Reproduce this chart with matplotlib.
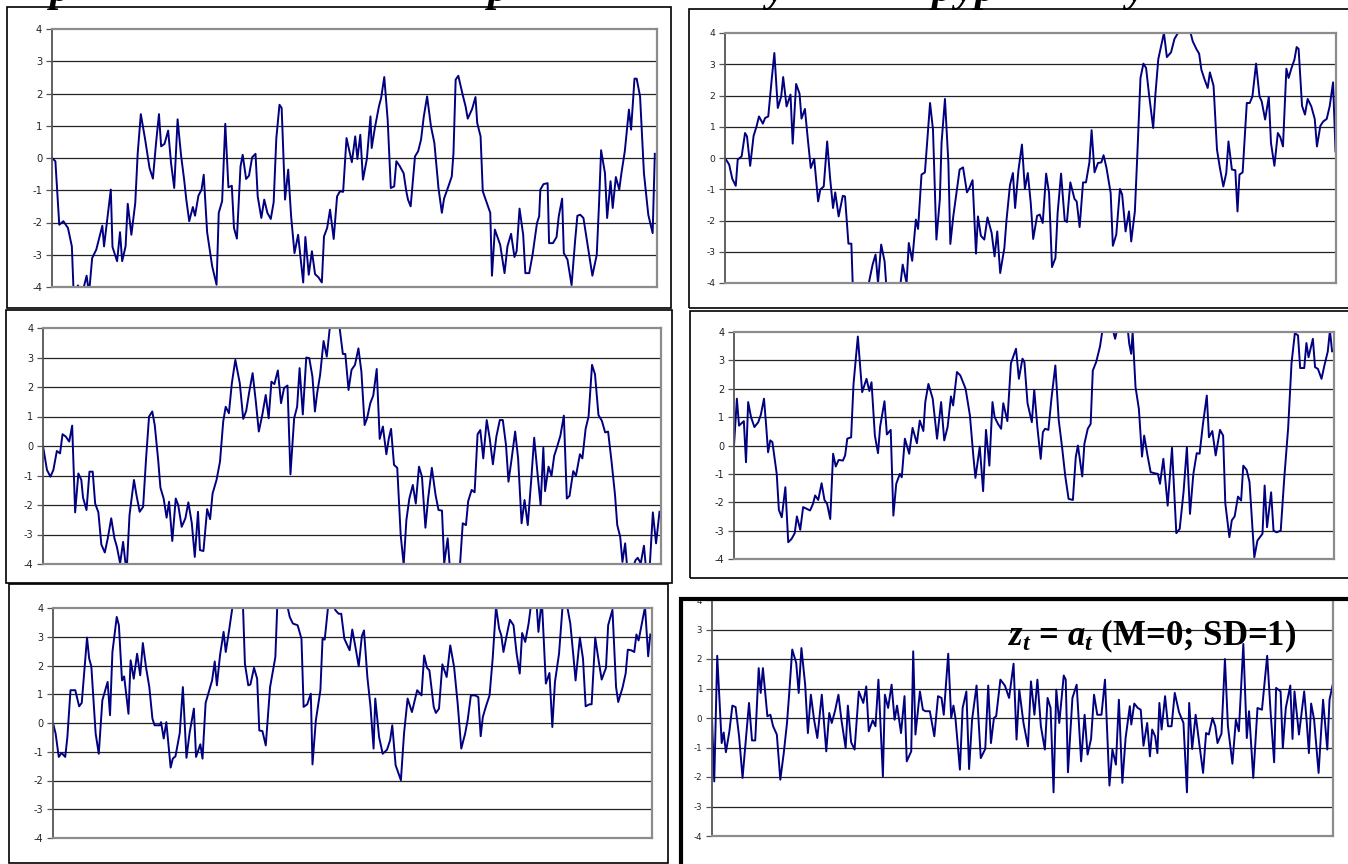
import matplotlib
matplotlib.use("Agg")
import matplotlib.pyplot as plt
from matplotlib.patches import Rectangle

plt.rcParams['axes.unicode_minus'] = False
plt.rcParams['font.family'] = ['DejaVu Sans']
plt.rcParams['mathtext.fontset'] = 'custom'
plt.rcParams['mathtext.it'] = 'Liberation Serif:italic:bold'
plt.rcParams['mathtext.rm'] = 'Liberation Serif:bold'

W, H = 1348, 864

# ---- series (t = sample index, v = value) ----
t1 = [0, 1.4, 3, 4.7, 6.6, 8.2, 9, 10.7, 12.5, 14.3,
      15.3, 16.6, 18.3, 20.8, 21.5, 24.3, 25, 26.9, 28.1, 29,
      30.4, 31.3, 32.8, 34.4, 35.4, 36.7, 38.5, 40.3, 41.7, 43,
      44.2, 45.1, 46.5, 48, 49.2, 50.5, 51.9, 53.3, 54.6, 55.5,
      56.7, 58.2, 59.1, 60.5, 61.8, 62.7, 64.1, 66.2, 68, 68.9,
      70.3, 71.6, 72.9, 74.3, 75.2, 76.4, 77.9, 78.8, 80.2, 81.4,
      82.7, 84.1, 85, 86.5, 87.7, 89, 90.4, 91.6, 92.7, 94,
      94.9, 96.3, 97.6, 98.8, 100.2, 101.7, 103.8, 104.7, 106.1, 107.4,
      108.7, 110.1, 111.5, 112.4, 113.7, 114.9, 116.4, 117.8, 119, 120.3,
      121.7, 123.9, 125.3, 126.2, 127.4, 128.5, 130.1, 131.6, 132.1, 133.4,
      135.1, 136, 137.3, 138.7, 140, 141.4, 142.3, 143.6, 145.3, 146.4,
      147.1, 148.2, 150, 151.3, 152.5, 153.6, 155, 156.6, 158, 159.7,
      161.1, 162, 163.8, 165.2, 165.9, 166.8, 167.9, 169.7, 170.9, 171.8,
      173.6, 175, 175.7, 177.1, 178, 179.8, 181.1, 181.8, 183, 185.2,
      187, 188.2, 189.7, 191.1, 192, 193.2, 194.7, 195.6, 197.2, 198.6,
      200.4, 201.3, 201.8, 203.1, 204.8, 205.4, 207, 208.5, 209.4, 210.8,
      211.5, 213, 214.7, 216.2, 217.1, 218.3, 219.6, 221.3, 223.3, 225.1,
      226, 226.9, 228.5, 229.4, 230.8, 231.7, 233, 234.4, 235.3, 236.7,
      238.4, 239.3, 240.7, 241.6, 243, 244.6, 246.4, 248.2, 249.1]
v1 = [0, -0.1, -2.07, -1.96, -2.17, -2.74, -4.3, -3.95, -4.2, -3.65,
      -4.2, -3.1, -2.84, -2.1, -2.74, -0.98, -2.76, -3.2, -2.3, -3.2,
      -2.74, -1.42, -2.38, -1.4, 0.13, 1.36, 0.57, -0.31, -0.64, 0.47,
      1.36, 0.36, 0.44, 0.85, -0.16, -0.93, 1.2, 0.1, -0.67, -1.29,
      -1.96, -1.52, -1.79, -1.17, -0.98, -0.52, -2.3, -3.36, -3.93, -1.7,
      -1.34, 1.06, -0.91, -0.86, -2.17, -2.5, -0.26, 0.1, -0.65, -0.55,
      0.02, 0.13, -1.19, -1.86, -1.29, -1.7, -1.89, -1.37, 0.62, 1.65,
      1.55, -1.29, -0.36, -1.8, -2.95, -2.38, -3.86, -2.45, -3.62, -2.89,
      -3.6, -3.7, -3.86, -2.43, -2.17, -1.6, -2.51, -1.19, -1.03, -1.05,
      0.62, -0.13, 0.67, -0.03, 0.72, -0.67, -0.03, 1.29, 0.31, 0.93,
      1.6, 1.86, 2.51, 1.19, -0.93, -0.88, -0.1, -0.24, -0.47, -1.03,
      -1.29, -1.5, 0.05, 0.21, 0.57, 1.27, 1.91, 0.98, 0.47, -0.93,
      -1.7, -1.26, -0.88, -0.57, 0.16, 2.43, 2.55, 1.96, 1.6, 1.22,
      1.52, 1.89, 1.09, 0.67, -1.03, -1.42, -1.7, -3.65, -2.22, -2.69,
      -3.57, -2.74, -2.35, -3.07, -2.89, -1.57, -2.38, -3.57, -3.57, -2.99,
      -2.02, -1.81, -0.98, -0.81, -0.78, -2.64, -2.64, -2.45, -1.81, -1.26,
      -2.95, -3.15, -3.94, -2.53, -1.79, -1.76, -1.86, -2.69, -3.65, -3.0,
      -1.5, 0.24, -0.47, -1.86, -0.72, -1.55, -0.59, -0.98, -0.47, 0.21,
      1.5, 0.88, 2.46, 2.46, 1.91, -0.47, -1.76, -2.33, 0.13]

t2 = [0, 1.7, 3, 4.4, 5.2, 6.8, 8.2, 9, 10.3, 11.7,
      12.9, 13.9, 15.5, 16.4, 17.7, 19.1, 20.2, 21.6, 23, 23.8,
      25.2, 26.8, 27.7, 29.1, 30.5, 31.3, 32.7, 33.9, 35.1, 36.5,
      38.1, 39, 40.4, 41.8, 43, 44.2, 45.1, 46.5, 48.2, 49.1,
      50.5, 51.7, 52.5, 57.8, 60.4, 61.6, 62.6, 63.9, 65.3, 66.1,
      69.1, 71.7, 72.7, 74.3, 75.2, 76.6, 78.1, 79, 80.4, 81.8,
      83.9, 85.1, 86.5, 87.9, 88.6, 90, 91.4, 92.2, 93.4, 94.7,
      96, 97.4, 99, 100, 101.3, 102.7, 103.5, 104.7, 106.1, 107.4,
      109.1, 110.3, 111.4, 112.6, 114.3, 115.2, 116.6, 117.8, 118.7, 120.1,
      121.5, 122.7, 123.9, 125.1, 126.1, 127.7, 128.8, 130, 131.4, 132.6,
      133.8, 135.2, 136.1, 137.5, 139, 139.9, 141.3, 143, 143.9, 145.1,
      146.5, 147.7, 149.1, 150, 151.2, 152.6, 154, 154.9, 156.1, 157.8,
      158.7, 160.1, 161.6, 162.5, 163.9, 165.3, 166.2, 167.7, 168.8, 170,
      171.2, 172.3, 173.5, 175.2, 176.1, 177.3, 178.4, 179.6, 180.8, 182.5,
      183.9, 185.7, 188.3, 190.5, 191.4, 193, 194, 194.9, 196.1, 197.5,
      198.4, 199.9, 201.3, 202.5, 203.9, 205.1, 206, 207.4, 208.8, 209.7,
      210.5, 211.8, 213.5, 214.7, 215.8, 217.3, 218.7, 219.6, 221, 222.5,
      223.4, 224.8, 226.2, 227.2, 228.3, 229.7, 230.6, 231.8, 233, 233.9,
      234.7, 236.1, 237.3, 238.4, 239.9, 241.3, 242.2, 243.6, 244.8, 246.2,
      247.4, 248.8, 249.8]
v2 = [0, -0.21, -0.67, -0.89, -0.05, 0.05, 0.8, 0.69, -0.25, 0.71,
      1.01, 1.33, 1.1, 1.28, 1.33, 2.51, 3.36, 1.6, 1.97, 2.59,
      1.65, 2.03, 0.46, 2.37, 2.06, 1.26, 1.57, 0.59, -0.32, -0.03,
      -1.39, -1.01, -0.91, 0.53, -0.64, -1.6, -1.1, -1.87, -1.21, -1.23,
      -2.74, -2.74, -4.6, -4.4, -3.41, -3.09, -4.0, -2.77, -3.31, -4.2,
      -4.5, -4.1, -3.41, -4.0, -2.72, -3.29, -1.97, -2.27, -0.53, -0.46,
      1.76, 0.91, -2.61, -1.33, 0.48, 1.89, -0.16, -2.75, -1.87, -1.12,
      -0.37, -0.3, -1.1, -0.96, -0.71, -3.06, -1.87, -2.49, -2.61, -1.9,
      -2.4, -3.15, -2.35, -3.68, -2.88, -1.97, -0.87, -0.48, -1.6, -0.37,
      0.43, -0.99, -0.48, -1.44, -2.59, -1.85, -1.81, -2.08, -0.5, -1.12,
      -3.49, -3.2, -1.76, -0.5, -1.99, -2.05, -0.78, -1.31, -1.39, -2.21,
      -0.78, -0.78, -0.14, 0.89, -0.46, -0.16, -0.14, 0.09, -0.32, -1.12,
      -2.81, -2.45, -0.99, -1.17, -2.35, -1.71, -2.67, -1.71, 0.27, 2.56,
      3.02, 2.88, 2.03, 0.96, 2.03, 3.17, 3.57, 4.0, 3.23, 3.38,
      3.81, 4.05, 4.05, 4.0, 3.73, 3.47, 3.34, 2.83, 2.54, 2.24,
      2.74, 2.31, 0.27, -0.32, -0.91, -0.48, 0.53, -0.37, -0.39, -1.71,
      -0.53, -0.46, 1.76, 1.76, 1.97, 3.02, 1.97, 1.81, 1.23, 1.95,
      0.48, -0.25, 0.8, 0.67, 0.37, 2.86, 2.56, 2.88, 3.15, 3.55,
      3.49, 1.67, 1.39, 1.89, 1.65, 1.25, 0.37, 1.03, 1.17, 1.25,
      1.65, 2.42, 0.21]

t3 = [0, 1.6, 3, 4.2, 5.6, 6.9, 7.9, 9.2, 10.6, 11.8,
      13, 14.3, 15.5, 16.2, 17.6, 18.8, 20.1, 21.1, 22.4, 23.6,
      25, 26.2, 27.6, 28.9, 29.9, 31.2, 32.4, 33.8, 35, 36.8,
      37.8, 39.1, 40.5, 41.7, 42.9, 44.2, 45.2, 46.6, 47.5, 48.8,
      50, 51, 52.3, 53.7, 54.7, 56.1, 57.6, 58.8, 60.2, 61.4,
      62.7, 63.5, 64.9, 66.4, 67.6, 68.6, 70.2, 71.6, 72.9, 73.9,
      75.2, 76.4, 77.8, 79.6, 81, 82.2, 83.4, 84.8, 86.1, 87.3,
      88.7, 90.1, 91.3, 92.4, 93.6, 95, 96.3, 97.5, 98.9, 100.1,
      101.6, 102.8, 103.8, 105.1, 106.5, 107.7, 109, 110, 110.9, 112.1,
      113.5, 114.8, 116, 117.4, 120, 121.3, 122.3, 123.6, 124.8, 126.2,
      127.6, 128.8, 130.1, 131.1, 132.4, 133.6, 135, 136.2, 137.5, 138.9,
      139.9, 140.8, 142, 143.3, 144.7, 145.9, 147, 148.2, 149.6, 150.8,
      152.1, 153.3, 154.7, 155.8, 157.3, 158.8, 160, 161.4, 162.3, 163.7,
      164.9, 168.4, 169.8, 171.1, 172, 173.4, 174.6, 175.8, 176.9, 178.1,
      179.5, 180.7, 182, 183.4, 184.8, 186, 187.3, 188.3, 189.6, 191,
      192.2, 193.6, 194.8, 196.1, 197.5, 198.7, 200.1, 201.3, 202.4, 203.1,
      204.5, 205.7, 206.8, 208, 209.3, 210.7, 211.9, 213, 214.5, 215.6,
      217.2, 218.2, 219.5, 220.7, 222.1, 223.3, 224.7, 226.1, 227.4, 228.6,
      230, 231.4, 232.3, 233.5, 234.4, 235.5, 236.5, 237.9, 239.7, 240.6,
      241.8, 243.1, 244.1, 245.3, 246.7, 248, 249.4]
v3 = [0, -0.81, -1.04, -0.81, -0.17, -0.25, 0.4, 0.32, 0.15, 0.69,
      -2.25, -0.93, -1.15, -1.75, -2.17, -0.87, -0.87, -1.95, -2.25, -3.34,
      -3.61, -3.13, -2.45, -3.13, -3.42, -3.98, -3.25, -4.3, -2.34, -1.15,
      -1.66, -2.23, -2.06, -0.42, 1.0, 1.17, 0.71, -0.48, -1.41, -1.78,
      -2.43, -1.89, -3.22, -1.78, -2.0, -2.74, -2.45, -1.91, -2.62, -3.76,
      -2.23, -3.53, -3.56, -2.14, -2.48, -1.61, -1.15, -0.53, 0.83, 1.33,
      1.11, 2.13, 2.92, 2.13, 0.92, 1.19, 1.82, 2.47, 1.5, 0.49,
      1.05, 1.73, 0.94, 2.18, 2.1, 2.56, 1.45, 1.96, 2.05, -0.96,
      0.94, 1.33, 2.64, 1.07, 3.0, 2.98, 2.35, 1.17, 1.79, 2.41,
      3.56, 3.03, 4.0, 4.3, 4.0, 3.12, 3.12, 1.9, 2.58, 2.75,
      3.31, 2.52, 0.71, 0.94, 1.45, 1.71, 2.61, 0.24, 0.66, -0.28,
      0.26, 0.58, -0.64, -0.74, -3.02, -4.02, -2.51, -1.78, -1.32, -1.95,
      -0.7, -1.04, -2.77, -1.78, -0.74, -1.66, -2.17, -2.19, -3.98, -3.13,
      -4.5, -4.4, -2.62, -2.68, -1.87, -1.49, -1.57, 0.4, 0.54, -0.42,
      0.88, 0.26, -0.62, 0.32, 0.88, 0.88, 0.03, -1.21, -0.42, 0.49,
      -0.42, -2.62, -1.83, -2.68, -1.15, 0.28, -0.98, -2.0, -0.06, -1.53,
      -0.7, -1.01, -0.33, -0.02, 0.35, 1.03, -1.78, -1.69, -0.85, -1.01,
      -0.28, -0.42, 0.58, 1.0, 2.75, 2.43, 1.05, 0.85, 0.46, 0.49,
      -0.53, -1.66, -2.68, -3.08, -3.93, -3.3, -4.3, -4.3, -3.87, -3.79,
      -3.98, -3.38, -4.3, -4.3, -2.25, -3.3, -2.23]

t4 = [0, 1.2, 2.1, 3.2, 4.1, 5, 5.9, 7.1, 8.5, 10.1,
      11.2, 12.5, 13.4, 14.2, 15.1, 16, 17.8, 18.7, 19.9, 21.4,
      22.6, 24, 25.3, 26.2, 27.6, 28.8, 30.3, 31.7, 32.9, 33.8,
      35.1, 36.5, 37.7, 38.8, 40.1, 41.3, 42.4, 43.6, 45.4, 46.3,
      47.2, 48.8, 49.8, 51.6, 53.4, 55.2, 56.4, 57.3, 58.7, 60,
      60.9, 62.7, 63.7, 65.3, 66.4, 67.6, 69.1, 69.9, 71.2, 73,
      74.4, 76.2, 77.4, 78.9, 79.7, 81, 82.8, 84.6, 86.3, 87.6,
      89, 90.4, 91.3, 92.9, 94.3, 96.5, 98.3, 99.7, 100.6, 102.4,
      103.8, 105, 106.4, 107.7, 108.6, 110, 111.3, 112.2, 113.9, 115.4,
      117.5, 118.7, 120.2, 121, 122.3, 124.1, 125.1, 126.4, 127.8, 128.7,
      129.6, 131, 132.3, 133.9, 135.3, 136.7, 138, 139.4, 141.2, 142.4,
      143.3, 145.1, 146, 147.4, 148.6, 149.5, 150.9, 152.5, 153.6, 156.6,
      158.1, 158.8, 160.2, 163.8, 164.7, 165.5, 166.1, 167.3, 168.7, 170,
      170.9, 172.3, 173.6, 175.3, 176.6, 177.5, 178.9, 180.7, 182.5, 184.3,
      185.7, 187.3, 188.7, 190, 191.4, 192.8, 194, 195.4, 197, 197.9,
      199.3, 200.7, 202.5, 203.8, 204.7, 206.4, 207.4, 208.6, 210, 211.3,
      212.2, 213.6, 214.8, 216.8, 218.1, 220.2, 221.1, 222.1, 223.8, 224.8,
      226.1, 227.8, 229.3, 230.9, 232.3, 233.7, 235, 235.9, 237.6, 238.5,
      239.4, 241.2, 242.1, 243.3, 244.8, 246, 247.4, 248.3, 249.2]
v4 = [0, 1.65, 0.7, 0.79, 0.86, -0.59, 1.53, 1.0, 0.65, 0.82,
      1.09, 1.65, 0.7, -0.24, 0.18, 0.12, -1.0, -2.27, -2.53, -1.47,
      -3.41, -3.29, -3.09, -2.5, -2.97, -2.17, -2.23, -2.29, -2.06, -1.76,
      -1.92, -1.33, -1.92, -2.06, -2.59, -0.29, -0.74, -0.51, -0.53, -0.35,
      0.24, 0.29, 2.17, 3.84, 1.88, 2.35, 1.92, 2.23, 0.35, -0.27,
      0.67, 1.56, 0.39, 0.55, -2.47, -1.35, -1.0, -1.12, 0.24, -0.29,
      0.62, 0.08, 0.88, 0.51, 1.53, 2.17, 1.65, 0.24, 1.53, 0.18,
      0.65, 1.73, 1.41, 2.59, 2.47, 2.0, 1.06, -0.35, -1.14, -0.04,
      -1.61, 0.55, -0.71, 1.53, 1.0, 0.76, 0.59, 1.49, 0.86, 2.9,
      3.41, 2.35, 3.06, 2.94, 1.49, 0.82, 1.96, 0.65, -0.47, 0.47,
      0.59, 0.55, 1.68, 2.82, 0.9, -0.06, -1.06, -1.88, -1.92, -0.41,
      0, -1.09, 0.06, 0.59, 0.76, 2.64, 2.94, 3.49, 4.1, 4.3,
      4.0, 3.76, 4.3, 4.3, 3.58, 3.23, 4.0, 2.06, 1.29, -0.39,
      0.35, -0.35, -0.94, -0.98, -1.0, -1.35, -0.47, -2.12, -0.08, -3.09,
      -2.94, -1.65, -0.06, -2.41, -1.0, -0.27, -0.29, 0.76, 1.76, 0.29,
      0.51, -0.35, 0.55, 0.35, -2.03, -3.23, -2.64, -2.5, -1.8, -1.94,
      -0.71, -0.86, -1.29, -3.94, -3.35, -3.11, -1.41, -2.88, -1.65, -3.0,
      -3.06, -3.0, -1.12, 0.62, 2.9, 3.96, 3.88, 2.73, 2.73, 3.61,
      3.11, 3.76, 2.76, 2.7, 2.35, 2.82, 3.31, 4.05, 3.32]

t5 = [0, 1.1, 2.4, 3.6, 5.1, 6, 7.3, 9.3, 10.9, 12,
      14.2, 15.1, 16, 17.8, 19.1, 20.6, 22.8, 23.8, 24.8, 26.6,
      27.5, 28.8, 29.7, 31.5, 32.4, 33.7, 35.1, 36.4, 37.5, 38.8,
      40.2, 41.5, 42.4, 44.6, 45.1, 46.2, 47.3, 49.1, 50, 51.1,
      52.9, 54.2, 55.7, 57, 58.8, 59.7, 61.5, 62.4, 63.7, 65.2,
      66.4, 67.5, 68.4, 69.7, 71.2, 72.1, 73.4, 74.8, 76.1, 79.2,
      80.1, 81.5, 82.4, 83.9, 85.2, 86.1, 87.4, 88.8, 90.6, 92.8,
      93.7, 96.1, 97.9, 98.8, 100.1, 102.1, 103.7, 104.6, 106.1, 107.6,
      108.3, 109.7, 111.6, 112.5, 113.4, 114.8, 116.1, 117.9, 119.2, 120.3,
      121.6, 123.8, 124.9, 126.1, 127.6, 128.9, 129.8, 131.2, 132.5, 133.8,
      134.5, 136.1, 137.6, 139.4, 140.7, 141.6, 143, 145.2, 146.5, 148,
      149.8, 152, 153.8, 154.9, 156.1, 157.1, 158.9, 159.8, 161.1, 162.5,
      164.3, 165.8, 167.4, 168.9, 170.4, 172, 173.1, 174.4, 176.2, 177.5,
      178.5, 179.4, 180.7, 182.2, 183.5, 184.9, 186.2, 187.1, 188, 189.5,
      190.7, 192.2, 193.5, 194.8, 195.8, 197.1, 198.5, 199.8, 201.7, 202.6,
      204, 204.4, 205.7, 207.2, 208.4, 209.5, 211.2, 212.6, 214.4, 215.9,
      217.1, 218.1, 219.9, 221.2, 222.3, 223.9, 224.8, 226.3, 227.7, 229,
      230.8, 231.7, 233.5, 235, 235.9, 237.7, 239, 239.9, 241.3, 242.6,
      243.5, 244.4, 245.9, 247.1, 248.4, 249.3]
v5 = [0, -0.37, -1.18, -1.04, -1.18, -0.49, 1.14, 1.14, 0.58, 0.7,
      2.97, 2.24, 1.97, -0.37, -1.07, 0.79, 1.43, 0.27, 2.47, 3.69,
      3.4, 1.48, 1.62, 0.32, 2.18, 1.54, 2.41, 1.66, 2.78, 1.95,
      1.25, 0.15, -0.08, -0.08, 0.03, -0.54, 0.03, -1.55, -1.24, -1.16,
      -0.35, 1.25, -1.21, -0.35, 0.5, -1.18, -0.74, -1.24, 0.7, 1.14,
      1.48, 2.14, 1.31, 2.35, 3.17, 2.47, 3.17, 3.98, 4.3, 4.3,
      2.06, 1.31, 1.34, 1.92, 1.54, -0.26, -0.28, -0.78, 1.25, 2.29,
      4.3, 4.3, 4.04, 3.69, 3.46, 3.4, 2.93, 0.56, 0.65, 1.02,
      -1.44, 0.09, 1.14, 2.93, 2.9, 4.04, 4.3, 3.92, 3.8, 3.8,
      2.93, 2.53, 3.25, 2.7, 1.97, 3.02, 3.22, 1.6, 0.58, -0.89,
      0.85, -0.49, -1.07, -0.93, -0.6, -0.08, -1.47, -1.99, -0.37, 0.85,
      0.38, 1.14, 0.96, 2.35, 1.92, 1.83, 0.56, 0.35, 0.5, 2.04,
      1.6, 2.7, 1.95, 0.67, -0.89, -0.37, 0.12, 0.96, 0.96, 0.9,
      -0.46, 0.21, 0.58, 0.96, 2.24, 4.04, 3.28, 3.05, 2.47, 3.11,
      3.59, 3.4, 2.41, 1.72, 3.13, 2.82, 3.46, 4.3, 4.3, 3.17,
      4.3, 3.63, 1.37, 1.74, -0.14, 1.43, 2.41, 3.98, 4.15, 3.46,
      2.41, 1.48, 2.97, 2.24, 0.58, 0.65, 0.65, 2.97, 2.18, 1.51,
      1.92, 3.4, 3.94, 1.25, 0.73, 1.23, 1.72, 2.55, 2.53, 2.47,
      3.08, 2.87, 3.51, 4.04, 2.32, 3.08]

t6 = [0, 0.9, 2.1, 3.9, 4.7, 5.6, 7, 8.2, 9.5, 10.9,
      12.3, 13.5, 14.9, 16.1, 17.4, 18.8, 19.6, 20.5, 22.3, 23.5,
      24.6, 26.1, 27.5, 28.9, 30.2, 31, 32.3, 33.9, 34.9, 36,
      37.5, 38.6, 39.8, 41.1, 42.4, 44.2, 46, 47.2, 48.2, 49.5,
      50.9, 52.1, 53.8, 54.7, 56, 57.4, 59.1, 60.9, 62.1, 63.1,
      64.7, 65.8, 67, 68.8, 69.6, 70.9, 72.3, 73.5, 74.5, 76.1,
      77.5, 78.4, 80.2, 81, 81.9, 83.7, 84.9, 85.9, 87.7, 89.5,
      91, 92.4, 93.3, 95.1, 96.3, 97.2, 98, 99.8, 100.9, 102.4,
      103.5, 104.7, 106.5, 108.2, 110, 111.2, 112.3, 113.5, 114.4, 116.1,
      117.9, 119.6, 121.4, 122.6, 123.7, 125.4, 127.2, 128.4, 129.8, 131,
      132.4, 134, 135.1, 136.3, 137.5, 138.6, 139.8, 141.6, 142.4, 143.3,
      145.1, 146.8, 148.6, 150, 151.2, 152.6, 153.8, 155.1, 156.8, 158.2,
      160, 161.2, 162.6, 163.8, 165.2, 166.5, 168.2, 168.8, 170, 171.4,
      172.6, 173.7, 175.2, 176.3, 177.2, 178.4, 179.3, 180.1, 181, 182.4,
      183.6, 185, 186.3, 188, 189.8, 191.2, 192.1, 193.3, 194.7, 196.3,
      197.7, 198.9, 200, 201.5, 202.6, 203.5, 205.1, 206.5, 207.7, 209.5,
      210.9, 212.1, 213.9, 215.3, 216.2, 217.9, 219.6, 221.4, 223.5, 224.9,
      226.3, 227.1, 228.9, 229.8, 231, 232.8, 233.7, 234.5, 236.3, 238.4,
      239.4, 240.3, 241.2, 242.4, 244.2, 246, 247.7, 248.6, 249.8]
v6 = [0, -2.15, 2.11, -0.85, -0.49, -1.16, -0.45, 0.42, 0.37, -0.62,
      -2.03, -0.85, 0.51, -0.76, -0.76, 1.69, 0.85, 1.69, 0.06, 0.11,
      -0.28, -0.56, -2.09, -1.18, -0.16, 0.74, 2.32, 1.87, 0.85, 2.37,
      1.13, -0.51, 0.79, -0.06, -0.68, 0.79, -1.13, 0.17, -0.17, 0.23,
      0.79, -0.06, -1.02, 0.42, -0.82, -1.07, 0.9, 0.51, 1.07, -0.45,
      -0.08, -0.28, 1.3, -1.98, 0.79, 0.34, 1.13, -0.06, 0.42, -0.51,
      0.74, -1.47, -1.13, 2.26, -0.56, 0.9, 0.28, 0.23, 0.23, -0.62,
      0.74, 0.68, 0.11, 2.18, 0, 0.42, 0, -1.75, 0.34, 0.9,
      -1.73, -0.06, 1.1, -1.36, -1.05, 1.1, -0.85, 0, 0.06, 1.3,
      1.1, 0.68, 1.84, -0.73, 0.96, -0.17, -0.96, 1.24, 0.11, 1.3,
      -0.28, -1.07, 0.68, 0.34, -2.52, 0.96, -0.17, 1.44, 1.3, -1.84,
      0.68, 1.13, -1.47, 0.11, -1.24, -0.71, 0.79, 0.11, 0.11, 1.3,
      -2.29, -1.07, -1.58, 0.62, -2.2, -0.68, 0.4, -0.22, 0.49, 0.34,
      0.28, -0.94, -0.17, -1.3, -0.39, -0.62, -1.19, 0.51, -0.39, 0.74,
      -0.28, -0.28, 0.85, 0.2, -0.17, -2.52, 0.51, -1.05, 0.11, -0.96,
      -1.86, -0.51, -0.56, 0, -0.28, -0.85, -0.53, 2.0, -0.28, -1.55,
      -0.06, -0.45, 2.51, -0.68, 0.23, -2.03, 0.34, 0.28, 2.11, 0.17,
      -1.5, 1.02, 0.9, -1.02, 0.34, 1.1, -0.71, 0.9, -0.56, 0.9,
      -0.11, -1.19, 0.49, -0.06, -1.86, 0.62, -1.07, 0.62, 1.1]

y_ticks = [-4, -3, -2, -1, 0, 1, 2, 3, 4]
note = r"$z_t$ = $a_t$ (M=0; SD=1)"

# bits of a heading that is cut off by the top edge: (x pixel, glyph)
heading_bits = [(50, 'p'), (488, 'p'), (766, 'y'), (932, 'p'), (955, 'y'),
                (975, 'p'), (1126, 'y')]

# pixel layout: (left, top, right, bottom)
panels = [
    (t1, v1, (52, 29, 657, 287), (7, 7, 671, 308), 1.2, 7.2),
    (t2, v2, (725, 33, 1336, 283), (689, 9, 1360, 308), 1.2, 6.6),
    (t3, v3, (43, 328, 661, 564), (6, 310, 672, 583), 1.2, 7.0),
    (t4, v4, (734, 332, 1334, 559), (690, 311, 1360, 578), 1.2, 7.0),
    (t5, v5, (53, 608, 652, 838), (9, 584, 668, 863), 1.2, 7.0),
    (t6, v6, (712, 600, 1333, 836), (681, 599, 1360, 872), 3.0, 6.2),
]

fig = plt.figure(figsize=(W / 100, H / 100), dpi=100)
fig.patch.set_facecolor('white')


def frac(box):
    x0, y0, x1, y1 = box
    return [x0 / W, 1 - y1 / H, (x1 - x0) / W, (y1 - y0) / H]


for t, v, ax_box, frame_box, frame_lw, fs in panels:
    fr = frac(frame_box)
    fig.patches.append(Rectangle((fr[0], fr[1]), fr[2], fr[3], transform=fig.transFigure,
                                 fill=False, edgecolor='black', linewidth=frame_lw))
    ax = fig.add_axes(frac(ax_box))
    ax.plot(t, v, color='#000080', linewidth=1.4)
    ax.set_xlim(0, 250)
    ax.set_ylim(-4, 4)
    ax.set_yticks(y_ticks)
    ax.set_yticklabels([str(y) for y in y_ticks])
    ax.set_xticks([])
    for y in y_ticks[1:-1]:
        ax.axhline(y, color='#222222', linewidth=0.9, zorder=0)
    for side in ['top', 'right', 'bottom']:
        ax.spines[side].set_color('#8c8c8c')
        ax.spines[side].set_linewidth(1.6)
    ax.spines['left'].set_color('#555555')
    ax.spines['left'].set_linewidth(1.3)
    ax.tick_params(axis='y', direction='out', length=4, width=0.9, color='#555555',
                   labelsize=fs, pad=3, labelcolor='#222222')

for x, ch in heading_bits:
    fig.text(x / W, 1 - 1 / H, ch, fontsize=30, family='Liberation Serif',
             style='italic', fontweight='bold', ha='left', va='baseline')

fig.text(1008 / W, 1 - 645 / H, note, fontsize=25, fontweight='bold',
         family='Liberation Serif', ha='left', va='baseline')

fig.savefig('out.png', dpi=100, facecolor='white')
